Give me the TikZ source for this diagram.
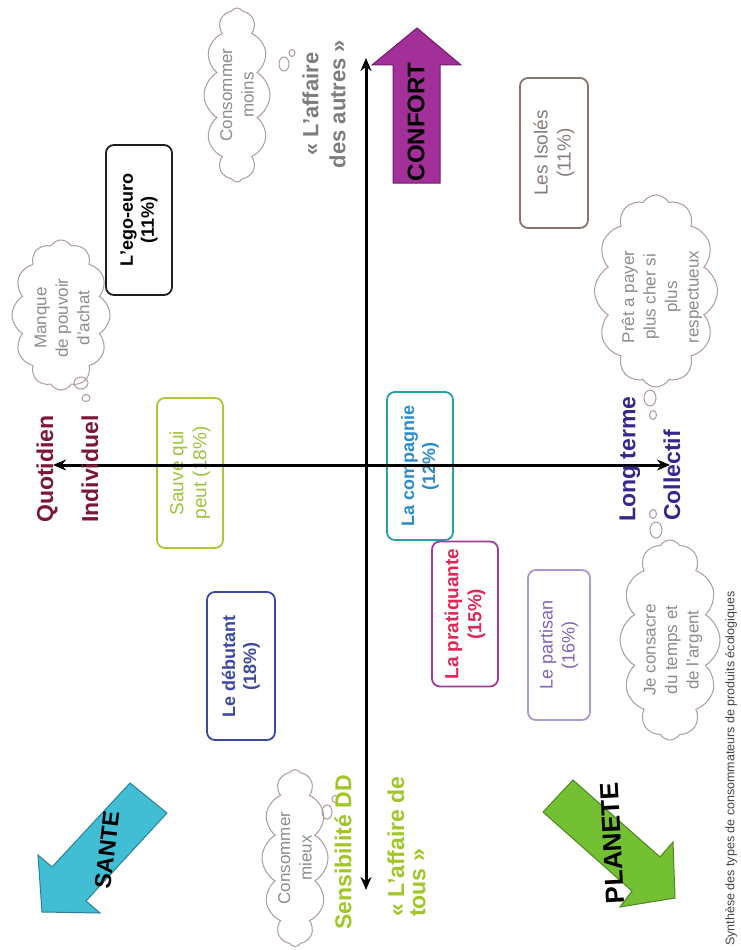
\documentclass[tikz,border=0pt]{standalone}
\usepackage{fontspec}
\setmainfont{Liberation Sans}
\usetikzlibrary{arrows.meta,shapes.symbols}
\definecolor{maroon}{RGB}{125,22,55}
\definecolor{navy}{RGB}{52,40,140}
\definecolor{lime}{RGB}{160,198,40}
\definecolor{grayt}{RGB}{125,125,125}
\definecolor{confortc}{RGB}{163,47,153}
\definecolor{confortd}{RGB}{110,30,105}
\definecolor{santec}{RGB}{66,190,212}
\definecolor{santed}{RGB}{40,130,150}
\definecolor{planetc}{RGB}{115,192,50}
\definecolor{planetd}{RGB}{75,135,30}
\definecolor{egoc}{RGB}{30,30,30}
\definecolor{isoc}{RGB}{135,118,108}
\definecolor{isot}{RGB}{135,125,120}
\definecolor{sauvec}{RGB}{172,200,55}
\definecolor{sauvet}{RGB}{160,195,60}
\definecolor{debc}{RGB}{60,72,165}
\definecolor{compc}{RGB}{40,160,165}
\definecolor{compt}{RGB}{45,140,205}
\definecolor{pratc}{RGB}{165,60,155}
\definecolor{pratt}{RGB}{222,40,85}
\definecolor{partc}{RGB}{172,152,212}
\definecolor{partt}{RGB}{130,100,180}
\definecolor{cloudc}{RGB}{175,155,155}
\definecolor{cloudt}{RGB}{140,140,140}
\definecolor{capt}{RGB}{70,70,70}
\begin{document}
\begin{tikzpicture}[x=1pt,y=-1pt,
  catbox/.style={draw, rounded corners=8pt, line width=1.8pt, rotate=90, align=center,
    inner sep=0pt, minimum width=150pt, minimum height=66pt},
  bx/.style={font=\fontsize{18}{21}\selectfont\bfseries},
  rx/.style={font=\fontsize{19}{23}\selectfont},
  cloudst/.style={draw=cloudc, line width=1pt, cloud, cloud puffs=12, cloud puff arc=120, cloud ignores aspect, inner sep=0pt},
  cloudtxt/.style={rotate=90, align=center, text=cloudt, font=\fontsize{17}{21.5}\selectfont, inner sep=0pt},
  tail/.style={draw=cloudc, line width=1pt},
  axlabel/.style={rotate=90, anchor=west, inner sep=0pt, font=\fontsize{23}{27}\selectfont\bfseries},
  axis/.style={line width=3pt, {Stealth[length=13pt,width=11pt]}-{Stealth[length=13pt,width=11pt]}},
  bigarrow/.style={line width=1pt, line join=miter}
]
\useasboundingbox (0,0) rectangle (740,950);
\fill[white] (0,0) rectangle (740,950);

% big coloured arrows
\filldraw[bigarrow, fill=confortc, draw=confortd]
  (393,183) -- (393,65) -- (372,65) -- (417,28) -- (461,65) -- (440,65) -- (440,183) -- cycle;
\filldraw[bigarrow, fill=santec, draw=santed]
  (130,783) -- (52,867) -- (38,855) -- (42,912) -- (100,913) -- (86,901) -- (167,813) -- cycle;
\filldraw[bigarrow, fill=planetc, draw=planetd]
  (543,812) -- (573,780) -- (660,857) -- (673,842) -- (675,898) -- (620,907) -- (632,891) -- cycle;
\node[rotate=90, font=\fontsize{24}{28}\selectfont\bfseries, inner sep=0pt] (confort) at (416,122) {CONFORT};
\node[rotate=83, font=\fontsize{23}{27}\selectfont\bfseries, inner sep=0pt] (sante) at (107,850) {SANTE};
\node[rotate=93, font=\fontsize{26}{30}\selectfont\bfseries, inner sep=0pt] (planete) at (612,843) {PLANETE};

% clouds
\node[cloudst, minimum width=66pt, minimum height=174pt] (c1) at (237,95) {};
\node[cloudtxt] (c1t) at (c1) {Consommer\\moins};
\draw[tail] (284,64) ellipse [x radius=5pt, y radius=7pt];
\draw[tail] (292,53) ellipse [x radius=3pt, y radius=3.5pt];

\node[cloudst, minimum width=98pt, minimum height=150pt] (c2) at (61,315) {};
\node[cloudtxt] (c2t) at (62,318) {Manque\\de pouvoir\\d'achat};
\draw[tail] (81,383) ellipse [x radius=7pt, y radius=6pt];
\draw[tail] (86,398) ellipse [x radius=4pt, y radius=3.5pt];

\node[cloudst, minimum width=123pt, minimum height=192pt] (c3) at (656,291) {};
\node[cloudtxt] (c3t) at (662,297) {Prêt a payer\\plus cher si\\plus\\respectueux};
\draw[tail] (650,398) ellipse [x radius=6pt, y radius=8pt];
\draw[tail] (653,415) ellipse [x radius=3.5pt, y radius=4.5pt];

\node[cloudst, minimum width=100pt, minimum height=200pt] (c4) at (670,640) {};
\node[cloudtxt] (c4t) at (673,650) {Je consacre\\du temps et\\de l'argent};
\draw[tail] (656,530) ellipse [x radius=6pt, y radius=8pt];
\draw[tail] (653,514) ellipse [x radius=3.5pt, y radius=4.5pt];

\node[cloudst, minimum width=66pt, minimum height=177pt] (c5) at (295,858) {};
\node[cloudtxt] (c5t) at (c5) {Consommer\\mieux};
\draw[tail] (327,812) ellipse [x radius=5pt, y radius=7pt];
\draw[tail] (335,799) ellipse [x radius=3pt, y radius=3.5pt];

% category boxes
\node[catbox, bx, draw=egoc, text=black] (ego) at (139,220) {L'ego-euro\\(11\%)};
\node[catbox, rx, draw=isoc, text=isot, minimum height=68pt] (iso) at (554,153) {Les Isolés\\(11\%)};
\node[catbox, rx, draw=sauvec, text=sauvet] (sauve) at (190,473) {Sauve qui\\peut (18\%)};
\node[catbox, bx, draw=debc, text=debc, minimum width=148pt, minimum height=68pt] (deb) at (241,666) {Le débutant\\(18\%)};
\node[catbox, bx, draw=compc, text=compt, minimum width=148pt] (comp) at (420,466) {La compagnie\\(12\%)};
\node[catbox, bx, draw=pratc, text=pratt, minimum width=145pt, font=\fontsize{19}{23}\selectfont\bfseries] (prat) at (465,614) {La pratiquante\\(15\%)};
\node[catbox, rx, draw=partc, text=partt, minimum height=62pt, font=\fontsize{18}{22}\selectfont] (part) at (559,645) {Le partisan\\(16\%)};

% axes
\coordinate (vt) at (366,58);
\coordinate (vb) at (366,890);
\coordinate (hl) at (53,465);
\coordinate (hr) at (670,465);
\draw[axis] (vb) -- (vt);
\draw[axis] (hl) -- (hr);

% axis labels
\node[rotate=90, align=center, inner sep=0pt, text=grayt, font=\fontsize{22}{27}\selectfont\bfseries] (autres) at (324,104) {« L'affaire\\des autres »};
\node[axlabel, text=maroon] (quot) at (47,523) {Quotidien};
\node[axlabel, text=maroon] (indiv) at (90,523) {Individuel};
\node[axlabel, text=navy] (long) at (630,522) {Long terme};
\node[axlabel, text=navy] (coll) at (672,521) {Collectif};
\node[axlabel, text=lime] (sens) at (343,930) {Sensibilité DD};
\node[axlabel, text=lime] (tous1) at (396,917) {« L'affaire de};
\node[axlabel, text=lime] (tous2) at (418,917) {tous »};

% caption
\node[rotate=90, anchor=west, inner sep=0pt, text=capt, font=\fontsize{12.5}{15}\selectfont] (cap) at (731,946) {Synthèse des types de consommateurs de produits écologiques};
\end{tikzpicture}
\end{document}
